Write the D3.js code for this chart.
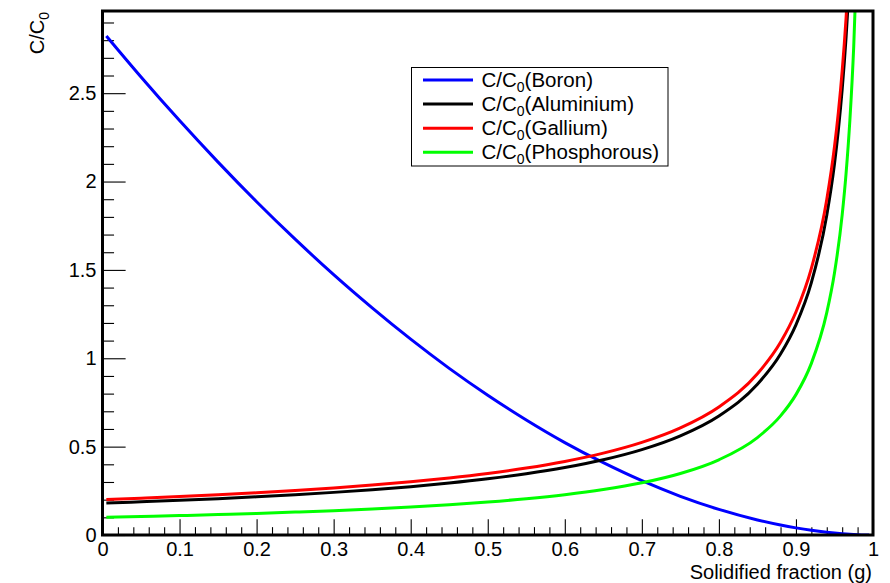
<!DOCTYPE html>
<html>
<head>
<meta charset="utf-8">
<script src="https://cdn.jsdelivr.net/npm/d3@7/dist/d3.min.js"></script>
<style>
  html, body { margin: 0; padding: 0; background: #fff; }
  svg { display: block; }
  text { font-family: "Liberation Sans", Arial, Helvetica, sans-serif; fill: #000; }
</style>
</head>
<body>
<svg id="chart" width="890" height="583"></svg>
<script>
// Solidified fraction g (x) and relative concentration C/C0 (y) for each dopant
const gBoron = [0.005, 0.05, 0.1, 0.15, 0.2, 0.25, 0.3, 0.35, 0.4, 0.45, 0.5, 0.55, 0.6, 0.65, 0.7, 0.75, 0.8, 0.85, 0.88, 0.9, 0.92, 0.94, 0.95, 0.96, 0.97, 0.98, 0.99, 0.995];
const boron = [2.824, 2.592, 2.345, 2.110, 1.886, 1.674, 1.473, 1.285, 1.108, 0.943, 0.791, 0.651, 0.523, 0.409, 0.307, 0.219, 0.145, 0.0852, 0.0564, 0.0403, 0.0266, 0.0157, 0.0112, 0.0074, 0.0043, 0.0021, 0.0006, 0.0002];

const gAluminium = [0.005, 0.05, 0.1, 0.15, 0.2, 0.25, 0.3, 0.35, 0.4, 0.45, 0.5, 0.55, 0.6, 0.65, 0.7, 0.75, 0.8, 0.85, 0.88, 0.9, 0.92, 0.94, 0.95, 0.955, 0.96, 0.965, 0.968, 0.97];
const aluminium = [0.1807, 0.1877, 0.1962, 0.2057, 0.2161, 0.2279, 0.2412, 0.2563, 0.2736, 0.2939, 0.3178, 0.3465, 0.3816, 0.4257, 0.4831, 0.5610, 0.6736, 0.8529, 1.0241, 1.1892, 1.4279, 1.8096, 2.0996, 2.289, 2.5211, 2.813, 3.028, 3.1913];

const gGallium = [0.005, 0.05, 0.1, 0.15, 0.2, 0.25, 0.3, 0.35, 0.4, 0.45, 0.5, 0.55, 0.6, 0.65, 0.7, 0.75, 0.8, 0.85, 0.88, 0.9, 0.92, 0.94, 0.95, 0.955, 0.96, 0.965, 0.97];
const gallium = [0.2008, 0.2084, 0.2176, 0.2278, 0.2391, 0.2518, 0.2660, 0.2823, 0.3010, 0.3227, 0.3482, 0.3788, 0.4163, 0.4632, 0.5240, 0.6063, 0.7247, 0.9123, 1.0906, 1.2619, 1.5085, 1.8988, 2.1971, 2.3903, 2.6264, 2.9227, 3.3062];

const gPhosphorous = [0.005, 0.05, 0.1, 0.15, 0.2, 0.25, 0.3, 0.35, 0.4, 0.45, 0.5, 0.55, 0.6, 0.65, 0.7, 0.75, 0.8, 0.85, 0.88, 0.9, 0.92, 0.94, 0.95, 0.96, 0.965, 0.97, 0.975, 0.98];
const phosphorous = [0.1005, 0.1047, 0.1099, 0.1158, 0.1222, 0.1296, 0.1379, 0.1474, 0.1584, 0.1713, 0.1866, 0.2052, 0.2281, 0.2572, 0.2955, 0.3482, 0.4257, 0.5514, 0.6741, 0.7943, 0.9710, 1.2579, 1.4823, 1.8117, 2.0435, 2.3474, 2.7661, 3.3813];

const seriesNames = ["Boron", "Aluminium", "Gallium", "Phosphorous"];
const seriesColors = ["#0000ff", "#000000", "#ff0000", "#00ff00"];

const xTickValues = [0, 0.1, 0.2, 0.3, 0.4, 0.5, 0.6, 0.7, 0.8, 0.9, 1];
const yTickValues = [0, 0.5, 1, 1.5, 2, 2.5];
const xDomain = [0, 1];
const yDomain = [0, 2.965];

const svg = d3.select("#chart");
const frame = { left: 102.5, right: 873, top: 11, bottom: 535 };

const x = d3.scaleLinear().domain(xDomain).range([frame.left, frame.right]);
const y = d3.scaleLinear().domain(yDomain).range([frame.bottom, frame.top]);

svg.append("defs").append("clipPath").attr("id", "plot-clip")
  .append("rect")
  .attr("x", frame.left).attr("y", frame.top)
  .attr("width", frame.right - frame.left).attr("height", frame.bottom - frame.top);

// Minor ticks: every 0.02 on x, every 0.1 on y
const xMinor = d3.range(0, 51).map(i => i / 50).filter(v => !xTickValues.some(t => Math.abs(t - v) < 1e-9));
const yMinor = d3.range(0, 30).map(i => i / 10).filter(v => v <= yDomain[1] && !yTickValues.some(t => Math.abs(t - v) < 1e-9));

const xLen = (frame.bottom - frame.top) * 0.03;
const yLen = (frame.right - frame.left) * 0.03;

const gx = svg.append("g").attr("transform", `translate(0,${frame.bottom})`);
gx.call(d3.axisBottom(x).tickValues(xTickValues).tickSize(-xLen).tickPadding(7).tickFormat(d => String(d)));
gx.append("g").call(d3.axisBottom(x).tickValues(xMinor).tickSize(-xLen / 2).tickFormat(""));

const gy = svg.append("g").attr("transform", `translate(${frame.left},0)`);
gy.call(d3.axisLeft(y).tickValues(yTickValues).tickSize(-yLen).tickPadding(6).tickFormat(d => String(d)));
gy.append("g").call(d3.axisLeft(y).tickValues(yMinor).tickSize(-yLen / 2).tickFormat(""));

svg.selectAll(".domain").remove();
svg.selectAll(".tick line").attr("stroke", "#000").attr("stroke-width", 1.1);
svg.selectAll(".tick text").attr("font-size", 20).attr("font-family", "Liberation Sans, Arial, sans-serif").attr("fill", "#000");

// Curves
const seriesData = [
  d3.zip(gBoron, boron),
  d3.zip(gAluminium, aluminium),
  d3.zip(gGallium, gallium),
  d3.zip(gPhosphorous, phosphorous)
];

const line = d3.line()
  .x(d => x(d[0]))
  .y(d => y(d[1]))
  .curve(d3.curveMonotoneX);

const curves = svg.append("g").attr("clip-path", "url(#plot-clip)");
seriesData.forEach((data, i) => {
  curves.append("path")
    .datum(data)
    .attr("fill", "none")
    .attr("stroke", seriesColors[i])
    .attr("stroke-width", 3)
    .attr("stroke-linejoin", "round")
    .attr("d", line);
});

// Frame
svg.append("rect")
  .attr("x", frame.left).attr("y", frame.top)
  .attr("width", frame.right - frame.left).attr("height", frame.bottom - frame.top)
  .attr("fill", "none").attr("stroke", "#000").attr("stroke-width", 3);

// Axis titles
svg.append("text")
  .attr("x", frame.right - 1).attr("y", 578.5)
  .attr("text-anchor", "end").attr("font-size", 20)
  .text("Solidified fraction (g)");

const yt = svg.append("text")
  .attr("transform", `translate(43.5,12) rotate(-90)`)
  .attr("text-anchor", "end").attr("font-size", 20);
yt.append("tspan").text("C/C");
yt.append("tspan").attr("font-size", 14).attr("dy", 5).text("0");

// Legend
const legend = svg.append("g");
legend.append("rect")
  .attr("x", 411.5).attr("y", 67.5).attr("width", 256.5).attr("height", 98.5)
  .attr("fill", "#fff").attr("stroke", "#000").attr("stroke-width", 1);

seriesNames.forEach((name, i) => {
  const cy = 80 + i * 24.1;
  legend.append("line")
    .attr("x1", 423).attr("x2", 473).attr("y1", cy).attr("y2", cy)
    .attr("stroke", seriesColors[i]).attr("stroke-width", 3);
  const t = legend.append("text")
    .attr("x", 481.5).attr("y", cy + 7).attr("font-size", 20.5);
  t.append("tspan").text("C/C");
  t.append("tspan").attr("font-size", 14).attr("dy", 5).text("0");
  t.append("tspan").attr("dy", -5).text(`(${name})`);
});
</script>
</body>
</html>
